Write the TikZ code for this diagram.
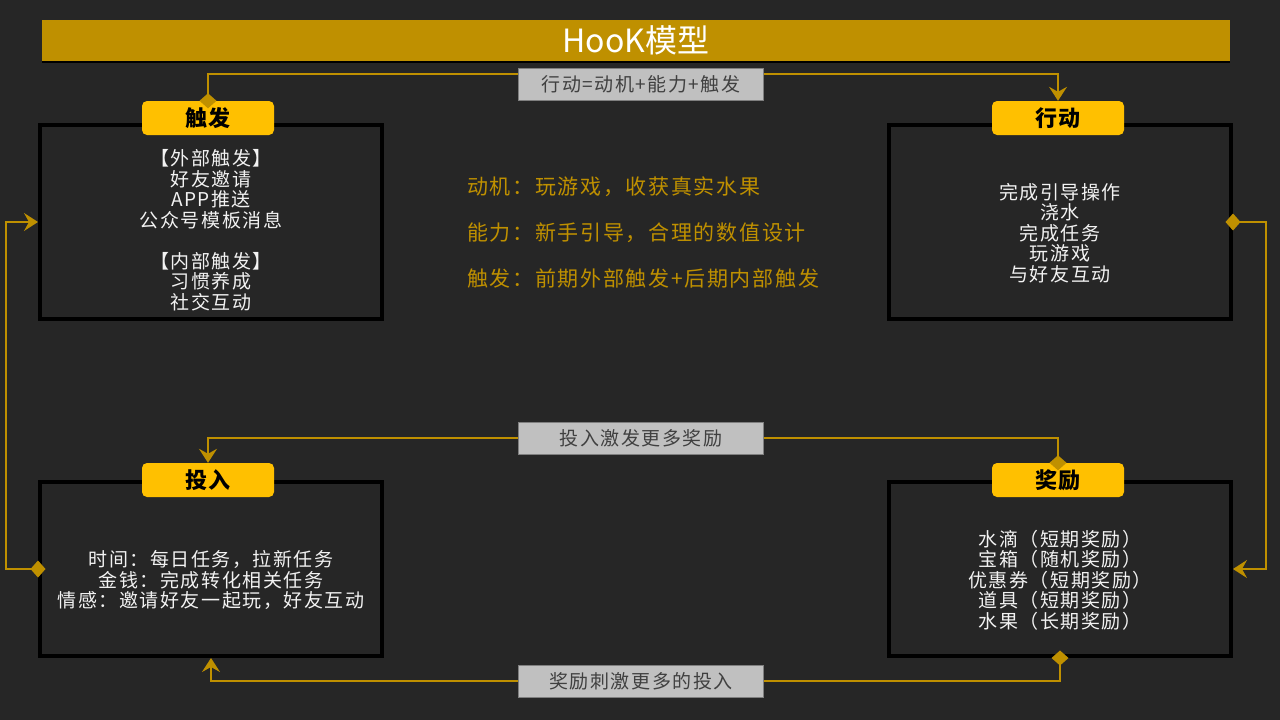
\documentclass[tikz,border=0pt]{standalone}
\usepackage{fontspec}
\setmainfont{Noto Sans CJK SC}
\newfontfamily\spacedfont{Noto Sans CJK SC}[LetterSpace=8]
\usetikzlibrary{arrows.meta}
\definecolor{bggrey}{HTML}{262626}
\definecolor{gold}{HTML}{BF9000}
\definecolor{tabgold}{HTML}{FFC000}
\definecolor{notegrey}{HTML}{C0C0C0}
\definecolor{noteline}{HTML}{7F7F7F}
\definecolor{notetext}{HTML}{404040}
\definecolor{boxtext}{HTML}{F2F2F2}

\begin{document}
\begin{tikzpicture}[
    x=1pt, y=-1pt,
    every node/.style={font=\spacedfont},
    stage/.style={draw=black, line width=4pt, fill=bggrey, minimum width=342pt},
    stage text/.style={align=center, text=boxtext, font=\spacedfont\fontsize{19}{20.5}\selectfont},
    tab/.style={fill=tabgold, rounded corners=5pt, minimum width=132pt, minimum height=34pt, inner sep=0pt,
                font=\spacedfont\bfseries\fontsize{22}{24}\selectfont},
    note/.style={fill=notegrey, draw=noteline, line width=0.8pt, minimum width=245pt, minimum height=32pt,
                 inner sep=0pt, text=notetext, font=\spacedfont\fontsize{19}{20.5}\selectfont},
    hint/.style={anchor=west, inner sep=0pt, text=gold, font=\spacedfont\fontsize{21}{22}\selectfont},
    link/.style={draw=gold, line width=1.5pt},
    arrowend/.style={-{Stealth[length=14pt,width=18pt,inset=5pt]}},
    diamondstart/.style={{Diamond[length=15pt,width=17pt]}-, shorten <=-7.5pt},
    bothends/.style={{Diamond[length=15pt,width=17pt]}-{Stealth[length=14pt,width=18pt,inset=5pt]},
                     shorten <=-7.5pt}
]

% background and title
\fill [bggrey] (0,0) rectangle (1280,720);
\node [fill=gold, minimum width=1188pt, minimum height=41pt, inner sep=0pt, text=white,
       font=\rmfamily\fontsize{32}{34}\selectfont] (title) at (636,40) {HooK模型};
\fill [black] ([yshift=-2.5pt]title.south west) rectangle (title.south east);

% the four stages
\node [stage, minimum height=194pt] (trigbox) at (211,222) {};
\node [stage text] (trigtext) at ([yshift=-8pt]trigbox.center)
      {【外部触发】\\好友邀请\\APP推送\\公众号模板消息\\[20.5pt]【内部触发】\\习惯养成\\社交互动};

\node [stage, minimum height=194pt] (actbox) at (1060,222) {};
\node [stage text] (acttext) at ([yshift=-11pt]actbox.center)
      {完成引导操作\\浇水\\完成任务\\玩游戏\\与好友互动};

\node [stage, minimum height=174pt] (invbox) at (211,569) {};
\node [stage text] (invtext) at ([yshift=-11pt]invbox.center)
      {时间：每日任务，拉新任务\\金钱：完成转化相关任务\\情感：邀请好友一起玩，好友互动};

\node [stage, minimum height=174pt] (rewbox) at (1060,569) {};
\node [stage text] (rewtext) at ([yshift=-11pt]rewbox.center)
      {水滴（短期奖励）\\宝箱（随机奖励）\\优惠券（短期奖励）\\道具（短期奖励）\\水果（长期奖励）};

\node [tab] (trigtab) at (208,118) {触发};
\node [tab] (acttab) at (1058,118) {行动};
\node [tab] (invtab) at (208,480) {投入};
\node [tab] (rewtab) at (1058,480) {奖励};

% formula in the middle
\node [hint] (motive) at (467,187) {动机：玩游戏，收获真实水果};
\node [hint] (ability) at (467,233) {能力：新手引导，合理的数值设计};
\node [hint] (prompt) at (467,279) {触发：前期外部触发+后期内部触发};

% loop
\node [note] (lab1) at (641,84) {行动=动机+能力+触发};
\node [note] (lab2) at (641,438) {投入激发更多奖励};
\node [note] (lab3) at (641,681) {奖励刺激更多的投入};

\draw [link, diamondstart] (trigtab.north) |- ([yshift=10pt]lab1.west);
\draw [link, arrowend] ([yshift=10pt]lab1.east) -| (acttab.north);

\draw [link, bothends] (actbox.east) -- ++(33,0) |- (rewbox.east);

\draw [link, diamondstart] (rewtab.north) |- (lab2.east);
\draw [link, arrowend] (lab2.west) -| (invtab.north);

\draw [link, diamondstart] (rewbox.south) |- (lab3.east);
\draw [link, arrowend] (lab3.west) -| (invbox.south);

\draw [link, bothends] (invbox.west) -- ++(-32,0) |- (trigbox.west);

\end{tikzpicture}
\end{document}
